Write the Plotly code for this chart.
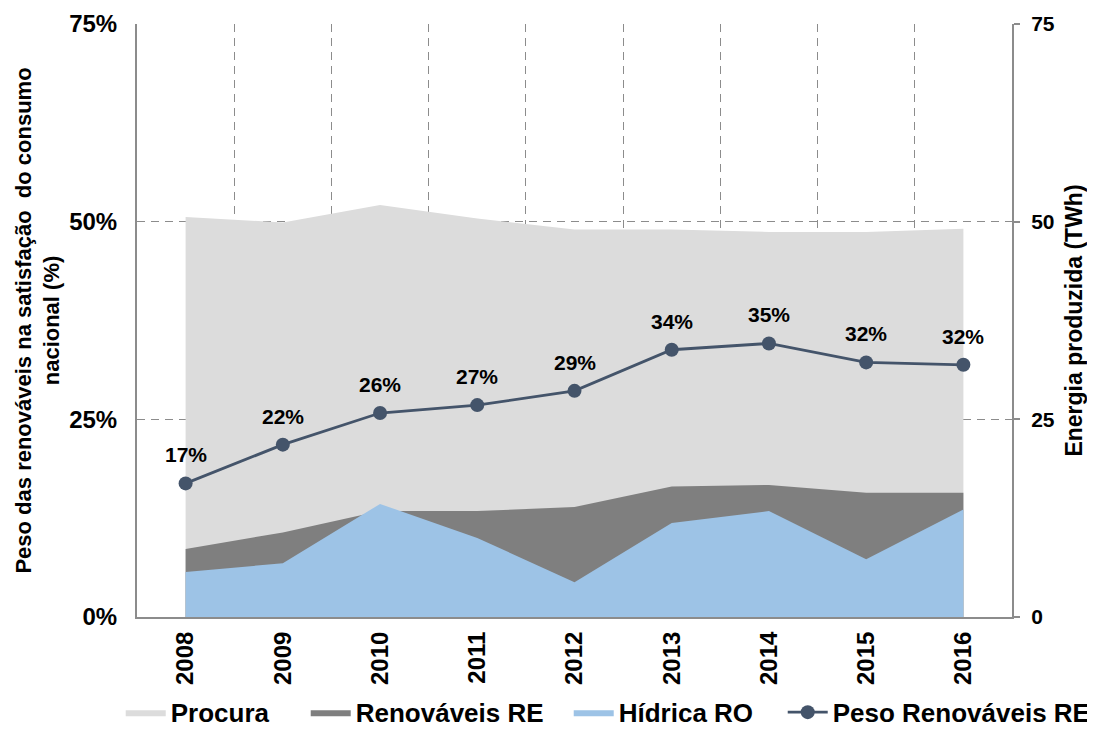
import plotly.graph_objects as go

years = ["2008", "2009", "2010", "2011", "2012", "2013", "2014", "2015", "2016"]
procura_twh = [50.6, 49.9, 52.1, 50.4, 49.0, 49.0, 48.7, 48.7, 49.1]
renovaveis_twh = [8.6, 10.7, 13.4, 13.4, 13.9, 16.5, 16.7, 15.7, 15.7]
hidrica_twh = [5.7, 6.8, 14.3, 10.0, 4.4, 11.9, 13.4, 7.3, 13.6]
peso_pct = [16.9, 21.8, 25.8, 26.8, 28.6, 33.8, 34.6, 32.2, 31.9]
twh_ticks = [0, 25, 50, 75]
pct_ticks = [0, 25, 50, 75]

FONT = "Liberation Sans, Arial, sans-serif"
AXIS_GREY = "#8c8c8c"
GRID_GREY = "#8c8c8c"
DASH = "8px,6px"

fig = go.Figure()

fig.add_trace(go.Scatter(
    x=years, y=procura_twh, name="Procura", mode="lines",
    line=dict(width=0, color="#dcdcdc"), fill="tozeroy", fillcolor="#dcdcdc",
    yaxis="y", hoverinfo="skip", legendwidth=130))
fig.add_trace(go.Scatter(
    x=years, y=renovaveis_twh, name="Renováveis RE", mode="lines",
    line=dict(width=0, color="#7f7f7f"), fill="tozeroy", fillcolor="#7f7f7f",
    yaxis="y", hoverinfo="skip", legendwidth=208))
fig.add_trace(go.Scatter(
    x=years, y=hidrica_twh, name="Hídrica RO", mode="lines",
    line=dict(width=0, color="#9dc3e6"), fill="tozeroy", fillcolor="#9dc3e6",
    yaxis="y", hoverinfo="skip", legendwidth=159))
fig.add_trace(go.Scatter(
    x=years, y=[v / 100 for v in peso_pct], name="Peso Renováveis RE",
    mode="lines+markers", line=dict(width=2.8, color="#44546a"),
    marker=dict(size=14, color="#44546a"), yaxis="y2"))

for i, v in enumerate(peso_pct):
    fig.add_annotation(
        x=i, y=v / 100, xref="x", yref="y2", text=f"<b>{round(v)}%</b>",
        showarrow=False, yanchor="bottom", yshift=15,
        font=dict(family=FONT, size=21, color="#000000"))

W, H = 1087, 722
fig.update_layout(
    width=W, height=H,
    margin=dict(l=129, r=83, t=16, b=113, autoexpand=False),
    paper_bgcolor="white", plot_bgcolor="white",
    font=dict(family=FONT, color="#000000"),
    showlegend=True,
    legend=dict(
        orientation="h", x=-0.0186, xanchor="left", y=-0.121, yanchor="top",
        font=dict(family=FONT, size=26, color="#000000", weight="bold"),
        itemwidth=40, bgcolor="rgba(0,0,0,0)"),
    xaxis=dict(
        type="category", range=[-0.5, 8.5], tickson="boundaries",
        showgrid=True, gridcolor=GRID_GREY, griddash=DASH, gridwidth=1.3,
        ticks="", tickangle=-90, ticklabelstandoff=3, automargin=False,
        tickfont=dict(family=FONT, size=24, color="#000000", weight="bold"),
        showline=True, linecolor=AXIS_GREY, linewidth=2, zeroline=False),
    yaxis=dict(
        side="right", range=[0, 75], tickvals=twh_ticks,
        showgrid=True, gridcolor=GRID_GREY, griddash=DASH, gridwidth=1.3,
        showline=True, linecolor=AXIS_GREY, linewidth=2, zeroline=False,
        ticks="outside", ticklen=6, tickcolor=AXIS_GREY, tickwidth=1.5,
        ticklabelstandoff=7, automargin=False,
        tickfont=dict(family=FONT, size=21, color="#000000", weight="bold"),
        title=dict(
            text="Energia produzida (TWh)",
            font=dict(family=FONT, size=23, color="#000000", weight="bold"),
            standoff=12)),
    yaxis2=dict(
        overlaying="y", side="left", range=[0, 0.75],
        tickvals=[t / 100 for t in pct_ticks],
        ticktext=[f"{t}%" for t in pct_ticks],
        showgrid=False, showline=True, linecolor=AXIS_GREY, linewidth=2,
        zeroline=False, ticks="", ticklabelstandoff=13, automargin=False,
        tickfont=dict(family=FONT, size=24, color="#000000", weight="bold"),
        title=dict(
            text="Peso das renováveis na satisfação  do consumo<br>nacional (%)",
            font=dict(family=FONT, size=22, color="#000000", weight="bold"),
            standoff=3)),
)

fig.write_html("out.html")
